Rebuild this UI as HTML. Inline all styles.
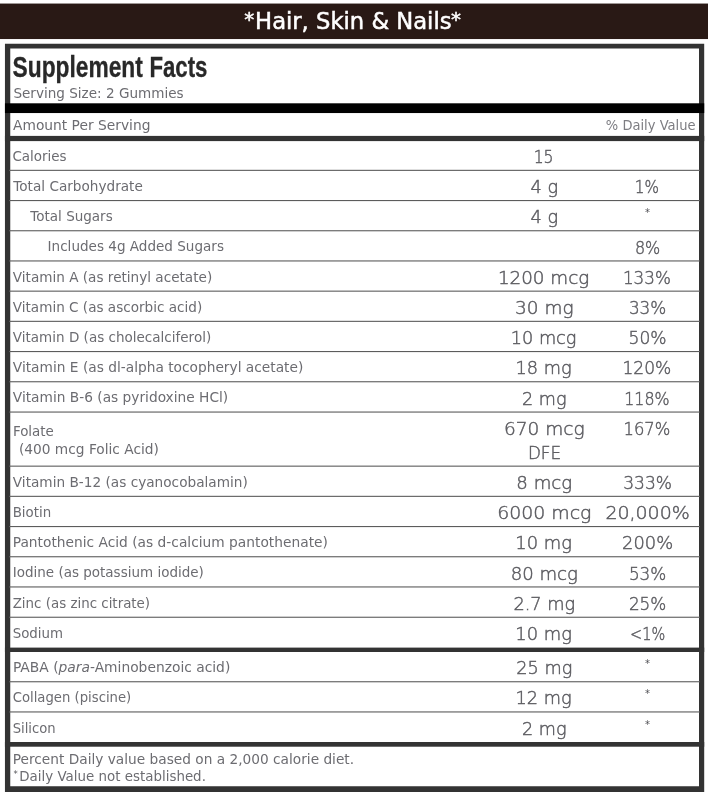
<!DOCTYPE html>
<html lang="en"><head><meta charset="utf-8"><title>Hair, Skin &amp; Nails - Supplement Facts</title>
<style>
html,body{margin:0;padding:0;background:#fff;}
body{width:708px;height:800px;overflow:hidden;position:relative;}
svg{position:absolute;left:0;top:0;display:block;will-change:transform;}
.b{font-family:"DejaVu Sans", "Liberation Sans", sans-serif;font-size:13.65px;fill:#6c6c71;font-weight:400;}
.a{font-family:"DejaVu Sans", "Liberation Sans", sans-serif;font-size:17.2px;fill:#5c5c61;font-weight:200;stroke:#5c5c61;stroke-width:0.45px;}
.s{font-family:"DejaVu Sans", "Liberation Sans", sans-serif;font-size:10px;fill:#4e4e53;}
.h{font-family:"Liberation Sans", "DejaVu Sans", sans-serif;font-size:30px;font-weight:700;fill:#282828;stroke:#282828;stroke-width:0.3px;}
.t{font-family:"DejaVu Sans", "Liberation Sans", sans-serif;font-size:22.3px;fill:#fff;font-weight:400;stroke:#fff;stroke-width:0.5px;}
</style></head><body>
<svg width="708" height="800" viewBox="0 0 708 800">
<rect x="0" y="3.55" width="708" height="35.5" fill="#291915"/>
<text class="t" y="28.7"><tspan x="244.2" dy="-2.6" style="font-size:20px">*</tspan><tspan x="255.1" dy="2.6" textLength="196.4" lengthAdjust="spacingAndGlyphs">Hair, Skin &amp; Nails</tspan><tspan x="450.9" dy="-2.6" style="font-size:20px">*</tspan></text>
<path fill-rule="evenodd" fill="#333333" d="M4.95 43.8H704.2V791.9H4.95Z M10.25 48.45V786.3H699V48.45Z"/>
<text class="h" y="77.2"><tspan x="12.6" textLength="130.2" lengthAdjust="spacingAndGlyphs">Supplement</tspan> <tspan x="149.4" textLength="58" lengthAdjust="spacingAndGlyphs">Facts</tspan></text>
<text class="b" x="13.4" y="97.7" textLength="170.2" lengthAdjust="spacingAndGlyphs">Serving Size: 2 Gummies</text>
<rect x="4.95" y="103.3" width="699.25" height="9.75" fill="#000"/>
<text class="b" x="13" y="130" textLength="137.4" lengthAdjust="spacingAndGlyphs">Amount Per Serving</text>
<text class="b" x="605.8" y="129.8" textLength="89.8" lengthAdjust="spacingAndGlyphs" style="fill:#7d7d82">% Daily Value</text>
<rect x="4.95" y="135.9" width="699.25" height="5.2" fill="#333333"/>
<rect x="9" y="169.8" width="691" height="1.1" fill="#5c5c5c"/>
<rect x="9" y="200.0" width="691" height="1.1" fill="#5c5c5c"/>
<rect x="9" y="230.2" width="691" height="1.1" fill="#5c5c5c"/>
<rect x="9" y="260.4" width="691" height="1.1" fill="#5c5c5c"/>
<rect x="9" y="290.6" width="691" height="1.1" fill="#5c5c5c"/>
<rect x="9" y="320.8" width="691" height="1.1" fill="#5c5c5c"/>
<rect x="9" y="351.0" width="691" height="1.1" fill="#5c5c5c"/>
<rect x="9" y="381.2" width="691" height="1.1" fill="#5c5c5c"/>
<rect x="9" y="411.5" width="691" height="1.1" fill="#5c5c5c"/>
<rect x="9" y="465.6" width="691" height="1.1" fill="#5c5c5c"/>
<rect x="9" y="495.8" width="691" height="1.1" fill="#5c5c5c"/>
<rect x="9" y="526.0" width="691" height="1.1" fill="#5c5c5c"/>
<rect x="9" y="556.2" width="691" height="1.1" fill="#5c5c5c"/>
<rect x="9" y="586.4" width="691" height="1.1" fill="#5c5c5c"/>
<rect x="9" y="616.7" width="691" height="1.1" fill="#5c5c5c"/>
<rect x="9" y="681.2" width="691" height="1.1" fill="#5c5c5c"/>
<rect x="9" y="711.4" width="691" height="1.1" fill="#5c5c5c"/>
<rect x="4.95" y="647.6" width="699.25" height="4.4" fill="#333333"/>
<rect x="4.95" y="742" width="699.25" height="4.7" fill="#333333"/>
<text class="b" x="12.4" y="160.8" textLength="54.2" lengthAdjust="spacingAndGlyphs">Calories</text>
<text class="a" x="533.65" y="163.0" textLength="19.9" lengthAdjust="spacingAndGlyphs">15</text>
<text class="b" x="13.3" y="191.0" textLength="129.5" lengthAdjust="spacingAndGlyphs">Total Carbohydrate</text>
<text class="a" x="530.5" y="193.2" textLength="27.6" lengthAdjust="spacingAndGlyphs">4 g</text>
<text class="a" x="634.8" y="193.2" textLength="24.2" lengthAdjust="spacingAndGlyphs">1%</text>
<text class="b" x="30.3" y="221.2" textLength="82.4" lengthAdjust="spacingAndGlyphs">Total Sugars</text>
<text class="a" x="530.5" y="223.4" textLength="27.6" lengthAdjust="spacingAndGlyphs">4 g</text>
<text class="s" x="647.6" y="216.3" text-anchor="middle">*</text>
<text class="b" x="47.6" y="251.4" textLength="176.4" lengthAdjust="spacingAndGlyphs">Includes 4g Added Sugars</text>
<text class="a" x="634.9" y="253.6" textLength="25.4" lengthAdjust="spacingAndGlyphs">8%</text>
<text class="b" x="12.8" y="281.6" textLength="199.4" lengthAdjust="spacingAndGlyphs">Vitamin A (as retinyl acetate)</text>
<text class="a" x="497.9" y="283.8" textLength="91.4" lengthAdjust="spacingAndGlyphs">1200 mcg</text>
<text class="a" x="622.95" y="283.8" textLength="47.9" lengthAdjust="spacingAndGlyphs">133%</text>
<text class="b" x="12.8" y="311.8" textLength="189.4" lengthAdjust="spacingAndGlyphs">Vitamin C (as ascorbic acid)</text>
<text class="a" x="515.1" y="314.0" textLength="58.4" lengthAdjust="spacingAndGlyphs">30 mg</text>
<text class="a" x="628.9" y="314.0" textLength="37.4" lengthAdjust="spacingAndGlyphs">33%</text>
<text class="b" x="12.8" y="341.9" textLength="198.4" lengthAdjust="spacingAndGlyphs">Vitamin D (as cholecalciferol)</text>
<text class="a" x="510.75" y="344.1" textLength="65.7" lengthAdjust="spacingAndGlyphs">10 mcg</text>
<text class="a" x="628.6" y="344.1" textLength="38" lengthAdjust="spacingAndGlyphs">50%</text>
<text class="b" x="12.8" y="372.1" textLength="290.5" lengthAdjust="spacingAndGlyphs">Vitamin E (as dl-alpha tocopheryl acetate)</text>
<text class="a" x="515.6" y="374.3" textLength="56.0" lengthAdjust="spacingAndGlyphs">18 mg</text>
<text class="a" x="622.5" y="374.3" textLength="48.8" lengthAdjust="spacingAndGlyphs">120%</text>
<text class="b" x="12.8" y="402.3" textLength="215.4" lengthAdjust="spacingAndGlyphs">Vitamin B-6 (as pyridoxine HCl)</text>
<text class="a" x="522.05" y="404.5" textLength="44.5" lengthAdjust="spacingAndGlyphs">2 mg</text>
<text class="a" x="624.25" y="404.5" textLength="45.3" lengthAdjust="spacingAndGlyphs">118%</text>
<text class="b" x="12.8" y="486.8" textLength="235" lengthAdjust="spacingAndGlyphs">Vitamin B-12 (as cyanocobalamin)</text>
<text class="a" x="516.35" y="489.0" textLength="55.9" lengthAdjust="spacingAndGlyphs">8 mcg</text>
<text class="a" x="623.2" y="489.0" textLength="48.8" lengthAdjust="spacingAndGlyphs">333%</text>
<text class="b" x="12.7" y="517.0" textLength="38.5" lengthAdjust="spacingAndGlyphs">Biotin</text>
<text class="a" x="497.2" y="519.2" textLength="94.2" lengthAdjust="spacingAndGlyphs">6000 mcg</text>
<text class="a" x="605.4" y="519.2" textLength="84.4" lengthAdjust="spacingAndGlyphs">20,000%</text>
<text class="b" x="12.7" y="547.2" textLength="315.2" lengthAdjust="spacingAndGlyphs">Pantothenic Acid (as d-calcium pantothenate)</text>
<text class="a" x="515.3" y="549.4" textLength="56.6" lengthAdjust="spacingAndGlyphs">10 mg</text>
<text class="a" x="622.1" y="549.4" textLength="51" lengthAdjust="spacingAndGlyphs">200%</text>
<text class="b" x="12.7" y="577.4" textLength="191.2" lengthAdjust="spacingAndGlyphs">Iodine (as potassium iodide)</text>
<text class="a" x="510.65" y="579.6" textLength="67.3" lengthAdjust="spacingAndGlyphs">80 mcg</text>
<text class="a" x="628.9" y="579.6" textLength="37.4" lengthAdjust="spacingAndGlyphs">53%</text>
<text class="b" x="12.7" y="607.6" textLength="137.4" lengthAdjust="spacingAndGlyphs">Zinc (as zinc citrate)</text>
<text class="a" x="513.4" y="609.8" textLength="61.8" lengthAdjust="spacingAndGlyphs">2.7 mg</text>
<text class="a" x="628.9" y="609.8" textLength="37.4" lengthAdjust="spacingAndGlyphs">25%</text>
<text class="b" x="12.7" y="638.0" textLength="50.4" lengthAdjust="spacingAndGlyphs">Sodium</text>
<text class="a" x="515.3" y="640.2" textLength="56.6" lengthAdjust="spacingAndGlyphs">10 mg</text>
<text class="a" x="630.05" y="640.2" textLength="35.1" lengthAdjust="spacingAndGlyphs">&lt;1%</text>
<text class="b" x="12.9" y="671.8" textLength="217.4" lengthAdjust="spacingAndGlyphs">PABA (<tspan font-style="italic">para</tspan>-Aminobenzoic acid)</text>
<text class="a" x="516.35" y="674.0" textLength="55.9" lengthAdjust="spacingAndGlyphs">25 mg</text>
<text class="s" x="647.6" y="666.9" text-anchor="middle">*</text>
<text class="b" x="12.7" y="702.2" textLength="118.6" lengthAdjust="spacingAndGlyphs">Collagen (piscine)</text>
<text class="a" x="515.6" y="704.4" textLength="56.0" lengthAdjust="spacingAndGlyphs">12 mg</text>
<text class="s" x="647.6" y="697.3" text-anchor="middle">*</text>
<text class="b" x="12.7" y="732.5" textLength="43" lengthAdjust="spacingAndGlyphs">Silicon</text>
<text class="a" x="522.05" y="734.7" textLength="44.5" lengthAdjust="spacingAndGlyphs">2 mg</text>
<text class="s" x="647.6" y="727.6" text-anchor="middle">*</text>
<text class="b" x="12.9" y="435.9" textLength="41" lengthAdjust="spacingAndGlyphs">Folate</text>
<text class="b" x="18.9" y="453.7" textLength="140" lengthAdjust="spacingAndGlyphs">(400 mcg Folic Acid)</text>
<text class="a" x="504.0" y="434.8" textLength="80.6" lengthAdjust="spacingAndGlyphs">670 mcg</text>
<text class="a" x="527.9" y="458.6" textLength="33.2" lengthAdjust="spacingAndGlyphs">DFE</text>
<text class="a" x="623.5" y="434.8" textLength="46.8" lengthAdjust="spacingAndGlyphs">167%</text>
<text class="b" x="12.8" y="763.5" textLength="341.3" lengthAdjust="spacingAndGlyphs">Percent Daily value based on a 2,000 calorie diet.</text>
<text class="b" x="13.6" y="777.4" style="font-size:8.5px;fill:#55555a">*</text>
<text class="b" x="19.3" y="780.8" textLength="186.6" lengthAdjust="spacingAndGlyphs">Daily Value not established.</text>
</svg>
</body></html>
